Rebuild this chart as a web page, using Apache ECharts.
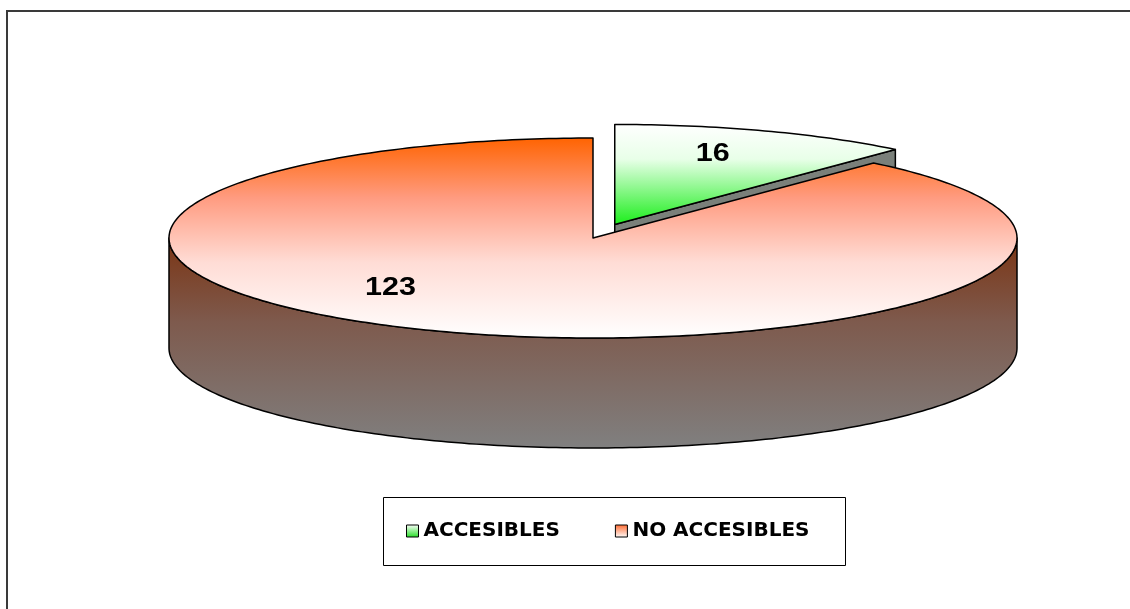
<!DOCTYPE html>
<html><head><meta charset="utf-8">
<script src="https://cdn.jsdelivr.net/npm/echarts@6/dist/echarts.min.js"></script>
<style>html,body{margin:0;padding:0;background:#fff}#c{width:1130px;height:609px}</style>
</head><body><div id="c"></div>
<script>
// ---- data ----
const categories = ['ACCESIBLES', 'NO ACCESIBLES'];
const values = [16, 123];
const valueLabels = ['16', '123'];

// ---- layout / style ----
const total = values.reduce((a, b) => a + b, 0);
const CX = 593, CY = 238, RX = 424, RY = 100, DEPTH = 110;
const EXPLODE = [0.145, 0];
const LABEL_POLAR = [[0.74, 18.2], [0.69, 223.8]]; // radius fraction, degrees
const FONT = '"Liberation Sans", Arial, sans-serif';
const G = (stops) => new echarts.graphic.LinearGradient(0, 0, 0, 1, stops.map(s => ({offset: s[0], color: s[1]})));
const TOP_FILL = [
  () => G([[0, '#ffffff'], [0.35, '#e8ffe8'], [1, '#1aee1a']]),
  () => G([[0, '#ff6300'], [0.3, '#ff9b80'], [0.62, '#ffdcd5'], [1, '#ffffff']])
];
const WALL_FILL = [
  () => G([[0, '#2f6f2f'], [1, '#808080']]),
  () => G([[0, '#7b3413'], [0.4, '#7e5a4d'], [1, '#808080']])
];
const FACE_FILL = ['#7a807a', '#7b3a20'];
const LEGEND_FILL = [
  () => G([[0, '#ffffff'], [1, '#22dd22']]),
  () => G([[0, '#ff6a30'], [1, '#ffffff']])
];

function pt(t, ox, oy, r, dy) {
  r = r == null ? 1 : r;
  return [CX + ox + RX * r * Math.sin(t), CY + oy - RY * r * Math.cos(t) + (dy || 0)];
}
function arc(a, b, ox, oy, dy) {
  const n = Math.max(2, Math.ceil(Math.abs(b - a) / (Math.PI / 180)));
  const out = [];
  for (let i = 0; i <= n; i++) out.push(pt(a + (b - a) * i / n, ox, oy, 1, dy));
  return out;
}

function renderSlice(idx) {
  return function (params, api) {
    const val = api.value(0);
    const start = values.slice(0, idx).reduce((a, b) => a + b, 0);
    const t0 = start / total * 2 * Math.PI;
    const t1 = (start + val) / total * 2 * Math.PI;
    const mid = (t0 + t1) / 2, e = EXPLODE[idx] || 0;
    const ox = e * RX * Math.sin(mid), oy = -e * RY * Math.cos(mid);
    const c = [CX + ox, CY + oy];
    const cD = [c[0], c[1] + DEPTH];
    const stroke = {stroke: '#000', lineWidth: 1.5, lineJoin: 'round'};
    const children = [];
    // outer wall (front half only)
    const a = Math.max(t0, Math.PI / 2), b = Math.min(t1, 3 * Math.PI / 2);
    if (a < b) {
      const top = arc(a, b, ox, oy, 0), bot = arc(a, b, ox, oy, DEPTH).reverse();
      children.push({type: 'polygon', shape: {points: top.concat(bot)},
        style: Object.assign({fill: WALL_FILL[idx]()}, stroke)});
    }
    // radial faces
    if (Math.sin(t1) > 1e-6) {
      const p = pt(t1, ox, oy);
      children.push({type: 'polygon', shape: {points: [c, p, [p[0], p[1] + DEPTH], cD]},
        style: Object.assign({fill: FACE_FILL[idx]}, stroke)});
    }
    if (Math.sin(t0) < -1e-6) {
      const p = pt(t0, ox, oy);
      children.push({type: 'polygon', shape: {points: [c, p, [p[0], p[1] + DEPTH], cD]},
        style: Object.assign({fill: FACE_FILL[idx]}, stroke)});
    }
    // top face
    children.push({type: 'polygon', shape: {points: [c].concat(arc(t0, t1, ox, oy, 0))},
      style: Object.assign({fill: TOP_FILL[idx]()}, stroke)});
    // value label
    const lp = LABEL_POLAR[idx];
    const lpt = pt(lp[1] * Math.PI / 180, ox, oy, lp[0]);
    children.push({type: 'text', x: lpt[0], y: lpt[1], scaleX: 1.22,
      style: {text: valueLabels[idx], fill: '#000', font: 'bold 25px ' + FONT, align: 'center', verticalAlign: 'middle'}});
    return {type: 'group', children: children};
  };
}

const chart = echarts.init(document.getElementById('c'), null, {renderer: 'canvas'});
chart.setOption({
  animation: false,
  backgroundColor: '#fff',
  graphic: [
    {type: 'rect', shape: {x: 7, y: 11, width: 1200, height: 700}, style: {fill: 'none', stroke: '#3a3a3a', lineWidth: 2}, silent: true, z: 0},
    {type: 'rect', shape: {x: 383.5, y: 497.5, width: 462, height: 68}, style: {fill: '#fff', stroke: '#000', lineWidth: 1}, silent: true, z: 0}
  ],
  legend: {
    left: 406, top: 521, padding: 0, itemWidth: 12, itemHeight: 12, itemGap: 55,
    selectedMode: false, z: 10,
    textStyle: {fontFamily: '"DejaVu Sans", sans-serif', fontWeight: 'bold', fontSize: 20, color: '#000', padding: [5, 0, 0, 0]},
    data: categories.map((n, i) => ({name: n, icon: 'rect', itemStyle: {color: LEGEND_FILL[i](), borderColor: '#000', borderWidth: 1}}))
  },
  series: categories.map((n, i) => ({
    type: 'custom', name: n, coordinateSystem: 'none', silent: true, z: 2 + i,
    itemStyle: {color: i === 0 ? '#33ee33' : '#ff7a50'},
    renderItem: renderSlice(i),
    data: [[values[i]]]
  }))
});
</script></body></html>
